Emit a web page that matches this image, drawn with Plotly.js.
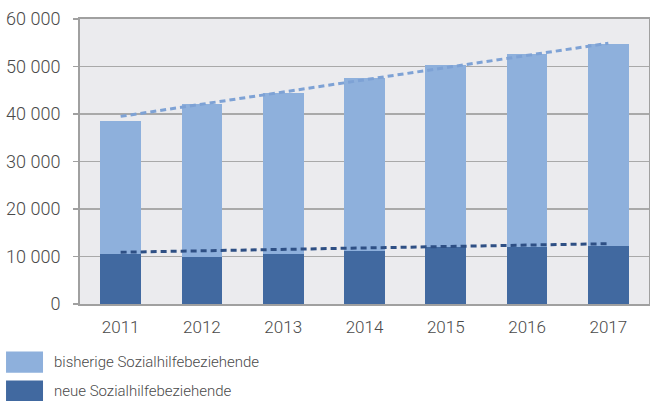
<!DOCTYPE html>
<html>
<head>
<meta charset="utf-8">
<script src="https://cdn.plot.ly/plotly-3.0.1.min.js"></script>
<style>
  html, body { margin: 0; padding: 0; background: #ffffff; }
  #chart { width: 650px; height: 401px; }
</style>
</head>
<body>
<div id="chart"></div>
<script>
// ---- data ----
var years = ['2011', '2012', '2013', '2014', '2015', '2016', '2017'];
var neue = [10500, 10000, 10500, 11200, 11900, 12100, 12300];
var bisherige = [28000, 32100, 33900, 36400, 38400, 40600, 42500];
var trendYears = ['2011', '2017'];
var trendTotal = [39500, 54900];
var trendNeue = [10900, 12700];
var legendLabels = ['bisherige Sozialhilfebeziehende', 'neue Sozialhilfebeziehende'];

var cLight = '#8EB0DC';
var cDark = '#4169A0';
var fontFam = 'Roboto, "Open Sans", sans-serif';
var txtCol = '#4A4A4A';

var traces = [
  { type: 'bar', x: years, y: neue, name: legendLabels[1],
    marker: { color: cDark }, width: 0.5, hoverinfo: 'skip' },
  { type: 'bar', x: years, y: bisherige, name: legendLabels[0],
    marker: { color: cLight }, width: 0.5, hoverinfo: 'skip' },
  { type: 'scatter', mode: 'lines', x: trendYears, y: trendTotal,
    line: { color: '#7EA2D5', width: 3, dash: '6px,4px' }, hoverinfo: 'skip' },
  { type: 'scatter', mode: 'lines', x: trendYears, y: trendNeue,
    line: { color: '#2E4F84', width: 3, dash: '6px,4px' }, hoverinfo: 'skip' }
];

var layout = {
  width: 650, height: 401,
  margin: { l: 80, r: 1, t: 19, b: 97 },
  paper_bgcolor: '#ffffff',
  plot_bgcolor: '#EBEBEE',
  barmode: 'stack',
  showlegend: false,
  separators: ', ',
  font: { family: fontFam, color: txtCol, size: 15, weight: 300 },
  xaxis: {
    type: 'category',
    showline: true, mirror: true, linecolor: '#A0A0A0', linewidth: 2,
    ticks: '', showgrid: false,
    tickfont: { family: fontFam, size: 17, color: txtCol, weight: 300 },
    ticklabelstandoff: 7
  },
  yaxis: {
    range: [0, 60000], dtick: 10000, tickformat: ',d',
    showline: true, mirror: true, linecolor: '#A0A0A0', linewidth: 2,
    showgrid: true, gridcolor: '#A9A9A9', gridwidth: 1.5,
    ticks: 'outside', ticklen: 5, tickcolor: '#A0A0A0', tickwidth: 1.5,
    tickfont: { family: fontFam, size: 18, color: txtCol, weight: 300 },
    ticklabelstandoff: 9, zeroline: false
  },
  shapes: [
    { type: 'rect', xref: 'paper', yref: 'paper', x0: -0.130, x1: -0.065, y0: -0.241, y1: -0.167,
      fillcolor: cLight, line: { width: 0 } },
    { type: 'rect', xref: 'paper', yref: 'paper', x0: -0.130, x1: -0.065, y0: -0.342, y1: -0.268,
      fillcolor: cDark, line: { width: 0 } }
  ],
  annotations: [
    { xref: 'paper', yref: 'paper', x: -0.049, y: -0.204, xanchor: 'left', yanchor: 'middle',
      text: legendLabels[0], showarrow: false,
      font: { family: fontFam, size: 15, color: txtCol, weight: 300 } },
    { xref: 'paper', yref: 'paper', x: -0.049, y: -0.305, xanchor: 'left', yanchor: 'middle',
      text: legendLabels[1], showarrow: false,
      font: { family: fontFam, size: 15, color: txtCol, weight: 300 } }
  ]
};

Plotly.newPlot('chart', traces, layout, { staticPlot: true, displayModeBar: false });
</script>
</body>
</html>
